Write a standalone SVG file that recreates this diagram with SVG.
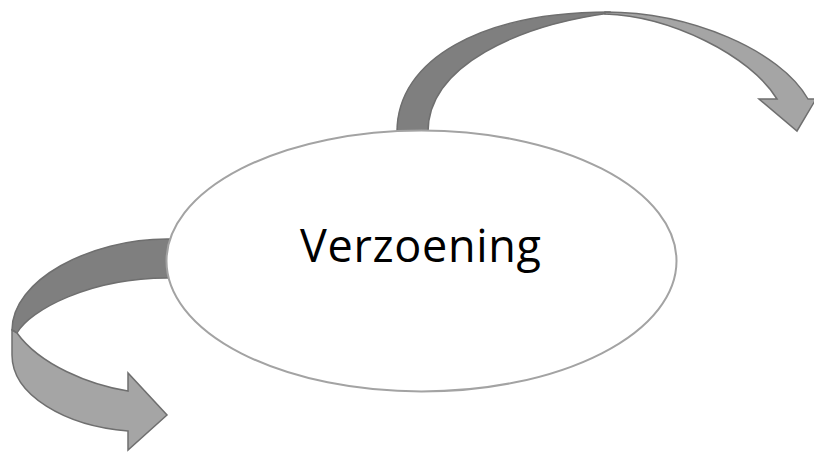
<svg xmlns="http://www.w3.org/2000/svg" width="814" height="452" viewBox="0 0 814 452">
  <style>
    .back { fill: #7f7f7f; stroke: #6f6f6f; stroke-width: 1.5; stroke-linejoin: miter; }
    .front { fill: #a5a5a5; stroke: #6f6f6f; stroke-width: 1.5; stroke-linejoin: miter; }
    .node { fill: #ffffff; stroke: #a3a3a3; stroke-width: 2; }
    .label { font-family: "Open Sans", "Liberation Sans", sans-serif; font-size: 45px; fill: #000000; }
  </style>
  <rect x="0" y="0" width="814" height="452" fill="#ffffff"/>
  <g id="connectors">
    <g id="arrow-top-right">
      <path class="back" d="M397,132 C397,59 482,12 610,12 L610,13 C520,25 428,65 428,132 Z"/>
      <path class="front" d="M605,12 C690,12 780,50 808,99 L816,99 L797,131 L759,99 L777,99 C750,55 670,16 605,14 Z"/>
    </g>
    <g id="arrow-bottom-left">
      <path class="back" d="M170,239 L167,239 C90,239 12,280 12,330 L17,333 C30,310 90,278 167,278 L170,278 Z"/>
      <path class="front" d="M12,330 L12,355 C12,395 65,426 128,431 L128,450 L167,415 L128,373 L128,391 C90,385 40,365 17,333 Z"/>
    </g>
  </g>
  <g id="verzoening">
    <ellipse class="node" cx="421.5" cy="261" rx="255" ry="130.5"/>
    <text class="label" x="300" y="262" textLength="241" lengthAdjust="spacing">Verzoening</text>
  </g>
</svg>
